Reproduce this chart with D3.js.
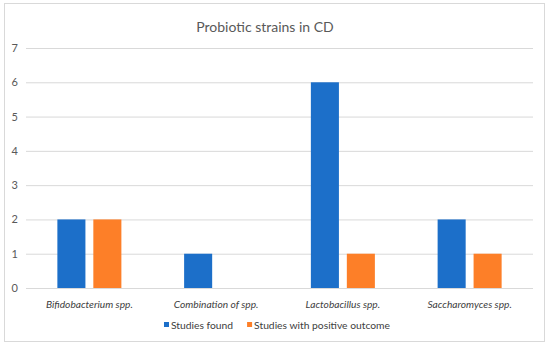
<!DOCTYPE html>
<html>
<head>
<meta charset="utf-8">
<title>Probiotic strains in CD</title>
<style>
  body { margin: 0; background: #fff; }
  svg text { font-family: Lato, "Open Sans", sans-serif; }
  .tick text { fill: #595959; font-size: 11px; }
  .cat text { font-style: italic; fill: #404040; }
  .legend text { fill: #404040; font-size: 10.3px; }
</style>
</head>
<body>
<svg width="550" height="349"></svg>
<script src="https://d3js.org/d3.v7.min.js"></script>
<script>
// data
var categories = ["Bifidobacterium spp.", "Combination of spp.", "Lactobacillus spp.", "Saccharomyces spp."];
var seriesNames = ["Studies found", "Studies with positive outcome"];
var studiesFound = [2, 1, 6, 2];
var positiveOutcome = [2, 0, 1, 1];
var yTicks = [0, 1, 2, 3, 4, 5, 6, 7];
var colors = ["#1c6fc9", "#fd7f28"];

var svg = d3.select("svg");
var margin = {left: 26, right: 17, top: 48, bottom: 61};
var width = 550 - margin.left - margin.right,
    height = 349 - margin.top - margin.bottom;

// outer frame
svg.append("rect")
    .attr("x", 4.5).attr("y", 3.5)
    .attr("width", 540).attr("height", 338)
    .attr("fill", "#fff")
    .attr("stroke", "#d9d9d9");

svg.append("text")
    .attr("x", 265).attr("y", 32)
    .attr("text-anchor", "middle")
    .attr("fill", "#595959")
    .style("font-size", "14px")
    .text("Probiotic strains in CD");

var g = svg.append("g").attr("transform", "translate(" + margin.left + "," + margin.top + ")");

var x0 = d3.scaleBand().domain(categories).range([0, width]).paddingInner(0.495).paddingOuter(0.2475);
var x1 = d3.scaleBand().domain(seriesNames).range([0, x0.bandwidth()]).paddingInner(0.22);
var y = d3.scaleLinear().domain([0, 7]).range([height, 0]);

// gridlines + labels
var yAxis = g.append("g")
    .call(d3.axisLeft(y).tickValues(yTicks).tickSize(-width).tickPadding(9).tickFormat(d3.format("d")));
yAxis.select(".domain").remove();
yAxis.selectAll(".tick line").attr("stroke", "#d9d9d9");
yAxis.selectAll(".tick text").attr("x", -8);

var rows = categories.map(function (c, i) {
  return {cat: c, vals: [studiesFound[i], positiveOutcome[i]]};
});

var groups = g.selectAll(".grp").data(rows).enter().append("g")
    .attr("transform", function (d) { return "translate(" + x0(d.cat) + ",0)"; });
groups.selectAll("rect")
    .data(function (d) { return d.vals.map(function (v, j) { return {s: seriesNames[j], v: v, j: j}; }); })
    .enter().append("rect")
    .filter(function (d) { return d.v > 0; })
    .attr("x", function (d) { return x1(d.s); })
    .attr("y", function (d) { return y(d.v); })
    .attr("width", x1.bandwidth())
    .attr("height", function (d) { return height - y(d.v); })
    .attr("fill", function (d) { return colors[d.j]; });

// category labels
var xAxis = g.append("g").attr("class", "cat")
    .attr("transform", "translate(0," + height + ")")
    .call(d3.axisBottom(x0).tickSize(0).tickPadding(13));
xAxis.select(".domain").remove();
xAxis.selectAll("text").style("font-size", "10.2px").attr("fill", "#404040");

// legend, centred around x=277
var legend = svg.append("g").attr("class", "legend");
var items = seriesNames.map(function (s, i) {
  var it = legend.append("g");
  it.append("rect").attr("x", 0).attr("y", 322).attr("width", 5).attr("height", 5).attr("fill", colors[i]);
  var t = it.append("text").attr("x", 7).attr("y", 328.5).text(s);
  return {g: it, w: 7 + t.node().getComputedTextLength()};
});
var gap = 14;
var total = items[0].w + gap + items[1].w;
var cx = 277 - total / 2;
items.forEach(function (it) {
  it.g.attr("transform", "translate(" + cx + ",0)");
  cx += it.w + gap;
});
</script>
</body>
</html>
